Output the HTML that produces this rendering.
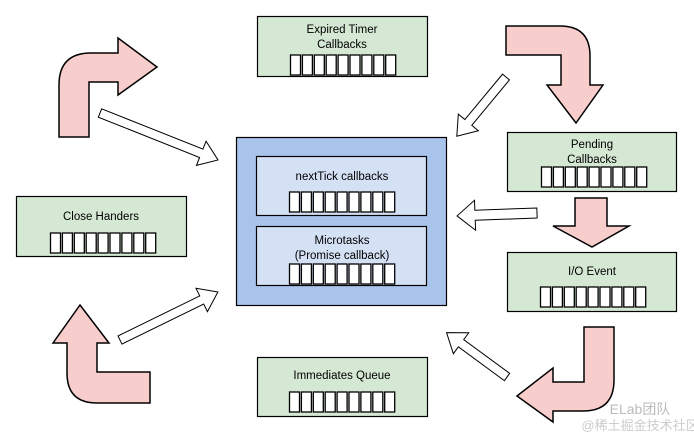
<!DOCTYPE html>
<html><head><meta charset="utf-8"><style>
html,body{margin:0;padding:0;background:#fff;}
svg{display:block;}
text{font-family:"Liberation Sans",Arial,sans-serif;font-size:11.5px;fill:#000;text-anchor:middle;}
</style></head><body>
<svg width="694" height="442" viewBox="0 0 694 442" xmlns="http://www.w3.org/2000/svg">
<defs>
<g id="cells">
<rect x="0.5" y="0" width="10" height="20" fill="#fff" stroke="#000" stroke-width="1.3"/>
<rect x="12.4" y="0" width="10" height="20" fill="#fff" stroke="#000" stroke-width="1.3"/>
<rect x="24.3" y="0" width="10" height="20" fill="#fff" stroke="#000" stroke-width="1.3"/>
<rect x="36.2" y="0" width="10" height="20" fill="#fff" stroke="#000" stroke-width="1.3"/>
<rect x="48.1" y="0" width="10" height="20" fill="#fff" stroke="#000" stroke-width="1.3"/>
<rect x="60" y="0" width="10" height="20" fill="#fff" stroke="#000" stroke-width="1.3"/>
<rect x="71.9" y="0" width="10" height="20" fill="#fff" stroke="#000" stroke-width="1.3"/>
<rect x="83.8" y="0" width="10" height="20" fill="#fff" stroke="#000" stroke-width="1.3"/>
<rect x="95.7" y="0" width="10" height="20" fill="#fff" stroke="#000" stroke-width="1.3"/>
</g>
</defs>

<!-- central box -->
<rect x="236.5" y="137.5" width="210" height="168" fill="#a9c4eb" stroke="#000" stroke-width="1.2"/>
<rect x="256.5" y="156.5" width="170" height="59" fill="#d4e1f5" stroke="#000" stroke-width="1.2"/>
<text x="342" y="180">nextTick callbacks</text>
<use href="#cells" x="289" y="192"/>
<rect x="256.5" y="226.5" width="170" height="59" fill="#d4e1f5" stroke="#000" stroke-width="1.2"/>
<text x="342" y="244">Microtasks</text>
<text x="342" y="259">(Promise callback)</text>
<use href="#cells" x="289" y="264"/>

<!-- green boxes -->
<rect x="257.5" y="16.5" width="170" height="60" fill="#d5e8d4" stroke="#000" stroke-width="1.2"/>
<text x="342" y="33">Expired Timer</text>
<text x="342" y="48">Callbacks</text>
<use href="#cells" x="290" y="55"/>

<rect x="507.5" y="132.5" width="169" height="59" fill="#d5e8d4" stroke="#000" stroke-width="1.2"/>
<text x="592" y="148">Pending</text>
<text x="592" y="163">Callbacks</text>
<use href="#cells" x="541" y="167"/>

<rect x="507.5" y="252.5" width="169" height="59" fill="#d5e8d4" stroke="#000" stroke-width="1.2"/>
<text x="592" y="275">I/O Event</text>
<use href="#cells" x="540" y="287"/>

<rect x="16.5" y="196.5" width="170" height="60" fill="#d5e8d4" stroke="#000" stroke-width="1.2"/>
<text x="101" y="220">Close Handers</text>
<use href="#cells" x="50" y="233"/>

<rect x="257.5" y="357.5" width="170" height="59" fill="#d5e8d4" stroke="#000" stroke-width="1.2"/>
<text x="342" y="379">Immediates Queue</text>
<use href="#cells" x="289" y="392"/>

<!-- pink bent arrows -->
<g fill="#f8cecc" stroke="#000" stroke-width="1.5" stroke-linejoin="miter">
<path d="M59,137 L59,85 Q59,53 91,53 L118,53 L118,38 L157,67 L118,95 L118,82 L89,82 L89,137 Z"/>
<path d="M80,305 L109,343 L97,343 L97,372 L150,372 L150,403 L97,403 Q67,403 67,373 L67,343 L53,343 Z"/>
<path d="M506,26 L560,26 Q590,26 590,56 L590,85 L603,85 L576,123 L547,85 L561,85 L561,55 L506,55 Z"/>
<path d="M584,327 L614,327 L614,380 Q614,411 583,411 L553,411 L553,422 L517,396 L553,368 L553,382 L584,382 Z"/>
<path d="M575,198 L607,198 L607,226 L629,226 L592,247 L553,226 L575,226 Z"/>
</g>

<!-- white arrows -->
<g fill="#fff" stroke="#000" stroke-width="1">
<g transform="translate(100,113) rotate(21.7)"><polygon points="0,-4.5 109,-4.5 109,-13 127,0 109,13 109,4.5 0,4.5"/></g>
<g transform="translate(120,340) rotate(-26.1)"><polygon points="0,-4.5 91,-4.5 91,-13 109,0 91,13 91,4.5 0,4.5"/></g>
<g transform="translate(506,77) rotate(129.7)"><polygon points="0,-4.5 59,-4.5 59,-13 77,0 59,13 59,4.5 0,4.5"/></g>
<g transform="translate(537,213) rotate(177.9)"><polygon points="0,-5 62,-5 62,-15 80,0 62,15 62,5 0,5"/></g>
<g transform="translate(507,377) rotate(216.3)"><polygon points="0,-4.5 57,-4.5 57,-13 75,0 57,13 57,4.5 0,4.5"/></g>
</g>

<!-- watermark -->
<text x="640" y="414" style="font-size:14px;fill:#bbb;">ELab团队</text>
<text x="640" y="430" style="font-size:13px;fill:#ccc;font-family:'Liberation Sans','Noto Sans CJK SC',sans-serif;">@稀土掘金技术社区</text>
</svg>
</body></html>
